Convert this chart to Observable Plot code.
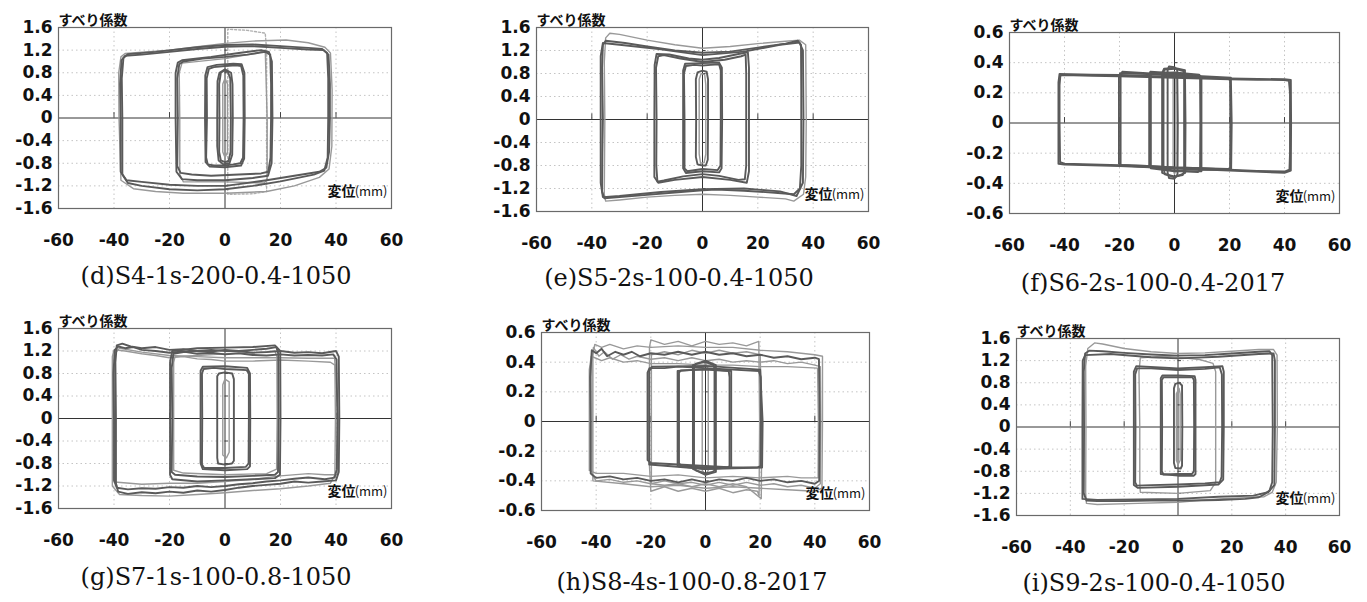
<!DOCTYPE html>
<html>
<head>
<meta charset="utf-8">
<script src="https://cdn.jsdelivr.net/npm/d3@7"></script>
<script src="https://cdn.jsdelivr.net/npm/@observablehq/plot@0.6"></script>
<style>
  html, body { margin: 0; padding: 0; background: #fff; }
  #root { position: relative; width: 1367px; height: 602px; overflow: hidden; background: #fff; }
  .ttl { position: absolute; font-family: "DejaVu Serif", "Liberation Serif", serif; font-size: 24px; line-height: 24px; color: #111; white-space: nowrap; transform: translateX(-50%); }
</style>
</head>
<body>
<div id="root"></div>
<script>
// ---------- tick labels, texts ----------
const xTicks = [-60, -40, -20, 0, 20, 40, 60];
const yTicksWide = [-1.6, -1.2, -0.8, -0.4, 0, 0.4, 0.8, 1.2, 1.6];
const yTicksNarrow = [-0.6, -0.4, -0.2, 0, 0.2, 0.4, 0.6];
const gridX = [-40, -20, 20, 40];
const titles = ["(d)S4-1s-200-0.4-1050", "(e)S5-2s-100-0.4-1050", "(f)S6-2s-100-0.4-2017",
                "(g)S7-1s-100-0.8-1050", "(h)S8-4s-100-0.8-2017", "(i)S9-2s-100-0.4-1050"];
const yLabel = "すべり係数";
const xLabelMain = "変位";
const xLabelUnit = "(mm)";

// ---------- panel (d) loops: [displacement mm, slip coefficient] ----------
const darkD = [
  [[-37.6,0],[-37.8,0.6],[-37.3,1.02],[-36,1.1],[-30,1.12],[-20,1.17],[-10,1.22],[0,1.26],[10,1.27],[20,1.24],[30,1.21],[35.5,1.2],[37.3,1.12],[37.8,0.6],[37.8,0],[37.5,-0.6],[36.5,-0.88],[34,-0.95],[25,-1.02],[15,-1.1],[5,-1.17],[0,-1.2],[-10,-1.2],[-20,-1.18],[-30,-1.13],[-35.5,-1.1],[-37.6,-0.95],[-37.6,0]],
  [[-37,0],[-37.2,0.7],[-36.6,1.06],[-35,1.13],[-25,1.17],[-10,1.25],[0,1.29],[10,1.3],[20,1.27],[30,1.24],[35,1.22],[36.8,1.15],[37.2,0.7],[37.2,0],[37,-0.7],[35.8,-0.93],[32,-1.0],[20,-1.12],[10,-1.2],[0,-1.26],[-10,-1.28],[-20,-1.26],[-30,-1.2],[-35,-1.15],[-37,-1.0],[-37,0]],
  [[-17,0],[-17.2,0.7],[-16.5,0.95],[-15,1.0],[-8,1.05],[0,1.08],[8,1.12],[14.5,1.17],[16.3,1.12],[16.6,0.6],[16.6,0],[16.4,-0.7],[15.6,-0.95],[13,-0.98],[5,-1.0],[-5,-1.02],[-12,-1.0],[-16,-0.97],[-17.2,-0.85],[-17,0]],
  [[-17.8,0],[-17.8,0.8],[-17,0.98],[-15.5,1.02],[-5,1.08],[5,1.15],[13,1.2],[15.8,1.17],[16.9,1.0],[17.1,0],[16.8,-0.8],[15.5,-1.02],[10,-1.06],[0,-1.1],[-10,-1.1],[-15.5,-1.08],[-17.5,-0.95],[-17.8,0]],
  [[-6.5,0],[-6.6,0.7],[-5.8,0.87],[-4,0.9],[0,0.92],[4,0.93],[5.8,0.92],[6.6,0.75],[6.7,0],[6.5,-0.7],[5.5,-0.8],[3,-0.82],[0,-0.84],[-4,-0.84],[-6.2,-0.82],[-6.8,-0.7],[-6.5,0]],
  [[-7.2,0],[-7.1,0.75],[-6.3,0.9],[-3,0.94],[3,0.96],[6,0.95],[7,0.8],[7.1,0],[6.9,-0.72],[5.8,-0.84],[0,-0.87],[-5.5,-0.86],[-7,-0.78],[-7.2,0]],
  [[-2,0],[-2.1,0.6],[-1.5,0.8],[-0.3,0.84],[1,0.82],[1.9,0.7],[2.1,0],[2,-0.6],[1.3,-0.76],[0,-0.78],[-1.5,-0.75],[-2.1,-0.6],[-2,0]],
  [[-2.8,0],[-2.7,0.65],[-2,0.8],[0,0.86],[2.2,0.8],[2.7,0.6],[2.8,0],[2.6,-0.65],[1.6,-0.8],[-0.5,-0.82],[-2.3,-0.75],[-2.8,-0.5],[-2.8,0]]
];
const lightD = [
  [[-38.2,0],[-38.3,0.8],[-37.5,1.08],[-36,1.14],[-20,1.2],[-10,1.26],[0,1.32],[10,1.36],[22,1.38],[30,1.33],[36,1.25],[38,1.15],[38.6,0.5],[38.5,-0.5],[37.5,-0.9],[34,-1.05],[25,-1.2],[15,-1.3],[0,-1.33],[-15,-1.33],[-25,-1.3],[-33,-1.25],[-37.5,-1.1],[-38.2,0]],
  [[-16.3,0],[-16.5,0.8],[-15.5,0.97],[0,1.05],[12,1.15],[14.5,1.2],[15.2,0],[15.2,-1.1],[14,-1.15],[0,-1.13],[-15,-1.13],[-16.3,-1.0],[-16.3,0]],
  [[-0.8,0],[-0.8,0.6],[0,0.7],[0.9,0.6],[0.9,-0.6],[0,-0.7],[-0.8,-0.6],[-0.8,0]]
];
const dotD = [
  [[1,-1.35],[1,1.57],[8,1.55],[14.5,1.5],[15,1.2],[15,-1.3],[10,-1.34],[1,-1.35]]
];

// ---------- panel (e) ----------
const darkE = [
  [[-36,0],[-36.3,0.9],[-36,1.3],[-35,1.37],[-28,1.33],[-20,1.27],[-10,1.2],[0,1.16],[10,1.18],[20,1.25],[30,1.32],[34.5,1.37],[35.6,1.3],[35.7,0.5],[35.7,-0.8],[35.2,-1.2],[33,-1.3],[25,-1.27],[15,-1.24],[5,-1.22],[0,-1.23],[-10,-1.27],[-20,-1.31],[-30,-1.35],[-35.5,-1.37],[-36.3,-1.25],[-36.2,-0.6],[-36,0]],
  [[-36.8,0],[-36.8,1.1],[-36,1.33],[-30,1.3],[-15,1.22],[0,1.12],[15,1.18],[28,1.3],[35,1.34],[36.3,1.2],[36.5,0],[36.3,-1.1],[34,-1.33],[28,-1.25],[15,-1.2],[0,-1.21],[-15,-1.26],[-30,-1.33],[-36,-1.35],[-36.8,-1.1],[-36.8,0]],
  [[-16.6,0],[-16.8,0.9],[-16,1.1],[-14,1.12],[-8,1.06],[0,1.0],[8,1.04],[14,1.1],[15.6,1.13],[15.8,0.8],[15.8,-0.8],[15.3,-1.04],[13,-1.05],[6,-0.98],[0,-0.95],[-7,-0.99],[-14,-1.06],[-16.3,-1.08],[-16.7,-0.8],[-16.6,0]],
  [[-17.4,0],[-17.3,0.95],[-16.6,1.14],[-12,1.13],[-5,1.06],[0,1.04],[6,1.07],[13,1.14],[16.4,1.17],[16.8,0.9],[16.8,-0.9],[16,-1.1],[10,-1.05],[0,-1.0],[-10,-1.05],[-16,-1.1],[-17.4,-1.0],[-17.4,0]],
  [[-6.5,0],[-6.7,0.8],[-6,0.93],[-3,0.95],[0,0.94],[3,0.95],[6,0.96],[6.6,0.85],[6.6,0],[6.5,-0.8],[5.5,-0.88],[0,-0.86],[-5.5,-0.9],[-6.5,-0.85],[-6.5,0]],
  [[-7,0],[-7,0.85],[-6.3,0.97],[0,0.98],[6,0.99],[7,0.9],[7.1,0],[6.9,-0.85],[6,-0.92],[0,-0.9],[-6,-0.93],[-7,-0.85],[-7,0]],
  [[-2.3,0],[-2.4,0.7],[-1.8,0.82],[0,0.85],[1.5,0.83],[2,0.7],[2,0],[1.9,-0.7],[1.2,-0.8],[0,-0.8],[-1.8,-0.78],[-2.4,-0.65],[-2.3,0]]
];
const lightE = [
  [[-35.3,0],[-35.5,1.0],[-35,1.42],[-33.5,1.5],[-30,1.48],[-20,1.38],[-10,1.3],[0,1.24],[10,1.27],[20,1.32],[30,1.36],[35,1.38],[37.3,1.3],[37.5,0],[37.3,-1.0],[36.5,-1.3],[33,-1.42],[30,-1.38],[20,-1.35],[10,-1.32],[0,-1.3],[-10,-1.32],[-20,-1.35],[-30,-1.4],[-35,-1.42],[-35.5,-1.3],[-35.3,0]],
  [[-1.2,0],[-1.2,0.7],[-0.5,0.8],[0.8,0.78],[1.2,0.6],[1.2,-0.6],[0.6,-0.75],[-0.7,-0.76],[-1.2,-0.6],[-1.2,0]]
];

// ---------- panel (f) ----------
const darkF = [
  [[-41.8,0],[-41.8,0.25],[-41.5,0.315],[-40,0.318],[-30,0.313],[-20,0.31],[-10,0.305],[0,0.3],[10,0.295],[20,0.29],[30,0.287],[40,0.285],[41.6,0.28],[42,0.2],[42,-0.2],[41.8,-0.31],[40,-0.322],[30,-0.318],[20,-0.31],[10,-0.3],[0,-0.295],[-10,-0.285],[-20,-0.28],[-30,-0.275],[-40,-0.27],[-41.6,-0.26],[-41.8,0]],
  [[-42.2,0],[-42.2,0.27],[-41.8,0.325],[-30,0.32],[-20,0.318],[0,0.305],[20,0.295],[40,0.29],[42.3,0.285],[42.4,0],[42.3,-0.315],[40,-0.33],[20,-0.315],[0,-0.3],[-20,-0.285],[-40,-0.275],[-42.2,-0.27],[-42.2,0]],
  [[-20.2,0],[-20.2,0.3],[-19.8,0.33],[-10,0.325],[0,0.315],[10,0.305],[19.8,0.295],[20.2,0.28],[20.3,0],[20.2,-0.3],[19.5,-0.305],[10,-0.3],[0,-0.295],[-10,-0.285],[-19.5,-0.278],[-20.2,-0.27],[-20.2,0]],
  [[-19.6,0],[-19.6,0.31],[-19,0.34],[-10,0.33],[0,0.32],[10,0.31],[20.5,0.3],[20.8,0],[20.6,-0.31],[10,-0.31],[0,-0.3],[-10,-0.292],[-19.6,-0.28],[-19.6,0]],
  [[-9.2,0],[-9.2,0.32],[-8.8,0.34],[0,0.33],[8.8,0.315],[9.3,0.3],[9.4,0],[9.3,-0.31],[8.5,-0.325],[0,-0.315],[-8.5,-0.295],[-9.2,-0.285],[-9.2,0]],
  [[-8.6,0],[-8.6,0.33],[0,0.335],[9,0.32],[9.8,0.3],[9.8,-0.32],[0,-0.32],[-8.6,-0.3],[-8.6,0]],
  [[-4,0],[-4,0.34],[-3.5,0.355],[0,0.36],[3.2,0.345],[3.5,0.3],[3.5,-0.32],[3,-0.345],[0,-0.355],[-3.5,-0.34],[-4,-0.3],[-4,0]],
  [[-4.5,0],[-4.5,0.33],[-3.8,0.36],[0,0.365],[3.8,0.35],[4,0],[3.9,-0.33],[0,-0.36],[-4.5,-0.33],[-4.5,0]],
  [[-2.5,0],[-2.5,0.35],[-2,0.375],[0,0.37],[1,0.35],[1.2,0],[1.1,-0.34],[0,-0.37],[-2,-0.365],[-2.5,-0.33],[-2.5,0]]
];
const lightF = [
  [[-0.5,0],[-0.5,0.3],[0,0.34],[0.5,0.3],[0.5,-0.3],[0,-0.34],[-0.5,-0.3],[-0.5,0]]
];

// ---------- panel (g) ----------
const darkG = [
  [[-40,0],[-40.2,0.8],[-39.7,1.22],[-38.5,1.28],[-36,1.25],[-33,1.27],[-30,1.22],[-25,1.2],[-20,1.17],[-15,1.19],[-10,1.15],[-5,1.17],[0,1.14],[5,1.16],[10,1.13],[15,1.12],[20,1.14],[25,1.12],[30,1.13],[35,1.12],[39,1.14],[40.2,1.05],[40.5,0],[40.3,-0.9],[39.5,-1.05],[36,-1.08],[30,-1.05],[25,-1.07],[20,-1.1],[15,-1.12],[10,-1.15],[5,-1.17],[0,-1.2],[-5,-1.22],[-10,-1.2],[-15,-1.23],[-20,-1.22],[-25,-1.25],[-30,-1.24],[-35,-1.26],[-39,-1.23],[-40,-1.1],[-40,0]],
  [[-39.3,0],[-39.5,1.0],[-39,1.3],[-37,1.33],[-34,1.28],[-30,1.25],[-25,1.27],[-20,1.22],[-15,1.23],[-10,1.2],[-5,1.22],[0,1.2],[5,1.2],[10,1.17],[15,1.18],[20,1.2],[25,1.17],[30,1.18],[35,1.16],[40,1.2],[41,1.1],[41.2,0],[41,-0.95],[40,-1.1],[35,-1.12],[30,-1.14],[25,-1.12],[20,-1.16],[15,-1.18],[10,-1.2],[5,-1.23],[0,-1.27],[-5,-1.3],[-10,-1.28],[-15,-1.32],[-20,-1.3],[-25,-1.33],[-30,-1.31],[-35,-1.34],[-38.5,-1.3],[-39.3,-1.15],[-39.3,0]],
  [[-19,0],[-19.2,0.9],[-18.6,1.15],[-15,1.18],[-10,1.2],[-5,1.19],[0,1.22],[5,1.2],[10,1.22],[15,1.24],[18.5,1.27],[19.2,1.15],[19.3,0],[19.1,-0.95],[18,-1.0],[10,-1.02],[0,-1.04],[-10,-1.03],[-18,-1.0],[-19.2,-0.95],[-19,0]],
  [[-19.8,0],[-19.8,1.0],[-19,1.2],[-10,1.25],[0,1.26],[10,1.27],[18,1.3],[19.9,1.2],[20,0],[19.8,-1.0],[18,-1.06],[10,-1.08],[0,-1.1],[-10,-1.12],[-19,-1.08],[-19.8,-1.0],[-19.8,0]],
  [[-8.2,0],[-8.3,0.8],[-7.7,0.88],[-4,0.9],[0,0.88],[4,0.87],[7.8,0.86],[8.6,0.8],[8.6,0],[8.5,-0.8],[7.5,-0.86],[0,-0.88],[-7.5,-0.88],[-8.3,-0.82],[-8.2,0]],
  [[-8.8,0],[-8.8,0.85],[-8,0.92],[0,0.93],[8,0.9],[9,0.8],[9.1,0],[9,-0.85],[8,-0.9],[0,-0.92],[-8,-0.9],[-8.8,-0.8],[-8.8,0]],
  [[-2.8,0],[-2.8,0.75],[-2.2,0.8],[0,0.82],[2.6,0.8],[3.2,0.7],[3.2,-0.75],[2.5,-0.8],[0,-0.82],[-2.5,-0.8],[-2.8,-0.7],[-2.8,0]]
];
const lightG = [
  [[-40.6,0],[-40.6,1.1],[-40,1.22],[-36,1.2],[-30,1.15],[-25,1.12],[-20,1.08],[-15,1.1],[-10,1.06],[-5,1.05],[0,1.02],[10,1.02],[20,1.04],[30,1.02],[38,1.0],[39.6,0.95],[39.8,0],[39.6,-1.0],[38,-1.15],[30,-1.2],[20,-1.25],[10,-1.28],[0,-1.32],[-10,-1.35],[-20,-1.38],[-30,-1.37],[-38,-1.35],[-40.6,-1.2],[-40.6,0]],
  [[-39.8,0],[-39.9,1.15],[-38,1.25],[-30,1.18],[-20,1.12],[-10,1.1],[0,1.08],[10,1.08],[20,1.08],[30,1.07],[39.5,1.07],[40.8,0],[40.5,-1.0],[36,-1.0],[30,-0.98],[20,-1.02],[10,-1.08],[0,-1.12],[-10,-1.15],[-20,-1.15],[-30,-1.17],[-39.8,-1.13],[-39.8,0]],
  [[-18.5,0],[-18.5,1.0],[-18,1.1],[-10,1.12],[0,1.15],[10,1.17],[18,1.2],[18.7,1.1],[18.8,0],[18.6,-0.9],[15,-0.98],[0,-1.0],[-15,-0.97],[-18.5,-0.92],[-18.5,0]],
  [[-0.8,0],[-0.8,0.6],[0,0.7],[1.5,0.65],[1.5,-0.6],[0.5,-0.7],[-0.8,-0.65],[-0.8,0]]
];

// ---------- panel (h) ----------
const darkH = [
  [[-42,0],[-42.2,0.3],[-41.6,0.48],[-40,0.46],[-38,0.49],[-36,0.44],[-33,0.47],[-30,0.45],[-27,0.47],[-24,0.44],[-20,0.46],[-15,0.45],[-10,0.47],[-5,0.45],[0,0.47],[5,0.45],[10,0.46],[15,0.44],[20,0.45],[25,0.43],[30,0.44],[35,0.42],[40,0.43],[41.5,0.42],[41.8,0],[41.6,-0.4],[40,-0.42],[35,-0.4],[30,-0.41],[25,-0.39],[20,-0.4],[15,-0.38],[10,-0.4],[5,-0.39],[0,-0.41],[-5,-0.39],[-10,-0.41],[-15,-0.39],[-20,-0.4],[-25,-0.38],[-30,-0.39],[-35,-0.37],[-40,-0.38],[-42,-0.35],[-42,0]],
  [[-21.2,0],[-21.2,0.33],[-20.5,0.36],[-15,0.36],[-10,0.37],[0,0.36],[10,0.35],[19.5,0.34],[20.2,0.3],[20.3,0],[20.2,-0.3],[19,-0.31],[10,-0.31],[0,-0.3],[-10,-0.29],[-20,-0.28],[-21.2,-0.26],[-21.2,0]],
  [[-20.6,0],[-20.6,0.34],[-19.5,0.37],[0,0.375],[20,0.35],[20.9,0],[20.7,-0.31],[0,-0.32],[-20.6,-0.29],[-20.6,0]],
  [[-9.7,0],[-9.7,0.33],[-9,0.345],[0,0.35],[8.5,0.34],[8.8,0.3],[8.8,-0.3],[8,-0.31],[0,-0.31],[-9,-0.3],[-9.7,-0.28],[-9.7,0]],
  [[-10.2,0],[-10.2,0.34],[0,0.355],[9.4,0.34],[9.4,-0.31],[0,-0.32],[-10.2,-0.3],[-10.2,0]],
  [[-4.2,0],[-4.2,0.37],[-3.5,0.39],[0,0.4],[3,0.38],[3.3,0.35],[3.3,-0.33],[2.5,-0.34],[0,-0.35],[-3.5,-0.33],[-4.2,-0.3],[-4.2,0]],
  [[-4.6,0],[-4.6,0.38],[0,0.41],[3.8,0.38],[3.8,-0.34],[0,-0.36],[-4.6,-0.32],[-4.6,0]]
];
const lightH = [
  [[-41.5,0],[-41.6,0.4],[-41,0.5],[-39,0.44],[-37,0.47],[-34,0.42],[-31,0.45],[-28,0.42],[-25,0.44],[-20,0.42],[-15,0.43],[-10,0.41],[-5,0.43],[0,0.41],[5,0.42],[10,0.4],[15,0.41],[20,0.4],[25,0.41],[30,0.39],[35,0.4],[40,0.38],[42,0.37],[42.2,0],[42,-0.42],[40,-0.45],[35,-0.43],[30,-0.44],[25,-0.42],[20,-0.43],[15,-0.41],[10,-0.43],[5,-0.41],[0,-0.43],[-5,-0.41],[-10,-0.42],[-15,-0.4],[-20,-0.42],[-25,-0.4],[-30,-0.41],[-35,-0.39],[-40,-0.4],[-41.5,-0.36],[-41.5,0]],
  [[-42.5,0],[-42.5,0.35],[-41.8,0.44],[-38,0.41],[-35,0.43],[-30,0.4],[-25,0.41],[-20,0.39],[-10,0.39],[0,0.38],[10,0.38],[20,0.37],[30,0.37],[41,0.36],[41.3,0],[41.2,-0.38],[35,-0.38],[30,-0.37],[20,-0.38],[10,-0.37],[0,-0.38],[-10,-0.36],[-20,-0.37],[-30,-0.35],[-40,-0.35],[-42.5,-0.33],[-42.5,0]],
  [[-41.2,0],[-41.2,0.45],[-40.5,0.52],[-38,0.5],[-35,0.52],[-30,0.49],[-25,0.51],[-20,0.5],[-10,0.51],[0,0.5],[10,0.5],[20,0.48],[30,0.47],[40,0.45],[42.8,0.44],[42.8,0],[42.6,-0.45],[40,-0.47],[30,-0.46],[20,-0.45],[10,-0.44],[0,-0.45],[-10,-0.43],[-20,-0.44],[-30,-0.42],[-41.2,-0.4],[-41.2,0]],
  [[-20.5,0],[-20.5,0.5],[-20,0.55],[-15,0.52],[-10,0.54],[-5,0.51],[0,0.54],[5,0.52],[10,0.53],[15,0.51],[19.5,0.54],[19.8,0],[19.6,-0.5],[19,-0.47],[15,-0.46],[10,-0.48],[5,-0.45],[0,-0.47],[-5,-0.45],[-10,-0.47],[-15,-0.44],[-20,-0.47],[-20.5,-0.3],[-20.5,0]],
  [[-19.8,0],[-19.8,0.45],[-15,0.47],[-10,0.45],[-5,0.48],[0,0.46],[5,0.48],[10,0.46],[15,0.47],[20,0.45],[20.6,0],[20.4,-0.52],[15,-0.44],[10,-0.42],[5,-0.44],[0,-0.42],[-5,-0.44],[-10,-0.42],[-15,-0.43],[-19.8,-0.42],[-19.8,0]],
  [[-1.2,0],[-1.2,0.35],[0,0.4],[1,0.35],[1,-0.33],[0,-0.36],[-1.2,-0.33],[-1.2,0]]
];

// ---------- panel (i) ----------
const darkI = [
  [[-34.9,0],[-35,1.0],[-34.5,1.33],[-33,1.38],[-28,1.37],[-20,1.34],[-10,1.31],[0,1.29],[10,1.3],[20,1.33],[30,1.36],[34,1.37],[35,1.3],[35.2,0],[35,-1.0],[34,-1.15],[32,-1.22],[30,-1.27],[25,-1.3],[15,-1.32],[5,-1.33],[0,-1.33],[-10,-1.33],[-20,-1.34],[-30,-1.34],[-34,-1.33],[-35,-1.2],[-34.9,0]],
  [[-35.5,0],[-35.4,1.2],[-34.5,1.3],[-25,1.32],[-10,1.26],[0,1.24],[15,1.27],[30,1.32],[35.5,1.33],[36,1.2],[36,0],[35.8,-1.05],[33.5,-1.18],[28,-1.24],[15,-1.26],[0,-1.3],[-15,-1.31],[-30,-1.32],[-35.5,-1.3],[-35.5,0]],
  [[-15.8,0],[-15.9,0.95],[-15.2,1.06],[-10,1.06],[0,1.03],[10,1.05],[15.5,1.08],[16.3,0.95],[16.4,0],[16.2,-0.9],[15.5,-1.0],[10,-1.02],[0,-1.04],[-10,-1.05],[-15.3,-1.06],[-15.9,-1.0],[-15.8,0]],
  [[-16.4,0],[-16.4,1.0],[-15.5,1.1],[-5,1.07],[0,1.06],[10,1.08],[16.5,1.1],[17,1.0],[17,0],[16.8,-0.95],[15,-1.04],[0,-1.08],[-15,-1.1],[-16.4,-1.05],[-16.4,0]],
  [[-5.9,0],[-6,0.85],[-5.4,0.9],[0,0.9],[5.4,0.9],[5.9,0.85],[6,0],[5.9,-0.8],[5.2,-0.85],[0,-0.85],[-5.4,-0.86],[-6,-0.8],[-5.9,0]],
  [[-6.4,0],[-6.4,0.88],[-5.8,0.93],[0,0.93],[6.2,0.92],[6.5,0.85],[6.5,-0.85],[5.8,-0.88],[0,-0.88],[-6.4,-0.85],[-6.4,0]],
  [[-1.5,0],[-1.5,0.7],[-1,0.78],[0.5,0.8],[1.5,0.75],[1.6,0],[1.5,-0.7],[1,-0.75],[-1,-0.74],[-1.5,-0.65],[-1.5,0]]
];
const lightI = [
  [[-34.2,0],[-34.3,1.1],[-33.5,1.42],[-31,1.52],[-28,1.5],[-20,1.42],[-10,1.36],[0,1.33],[10,1.34],[20,1.37],[30,1.4],[35.5,1.4],[36.8,1.3],[36.9,0],[36.5,-1.0],[35,-1.18],[32,-1.26],[25,-1.28],[15,-1.3],[0,-1.36],[-15,-1.38],[-30,-1.4],[-34,-1.38],[-34.3,-1.2],[-34.2,0]],
  [[-14.2,0],[-14.5,1.0],[-14,1.25],[-5,1.28],[2,1.25],[8,1.22],[13,1.15],[14,1.0],[14,-1.0],[12,-1.15],[0,-1.2],[-14,-1.18],[-14.2,-1.0],[-14.2,0]],
  [[-0.6,0],[-0.6,0.6],[0.4,0.7],[0.8,0.6],[0.8,-0.6],[0,-0.68],[-0.6,-0.6],[-0.6,0]]
];

// ---------- layout (page pixels of each plot frame) ----------
const panels = [
  {dark: darkD, light: lightD, dot: dotD, yTicks: yTicksWide,   L: 58,   R: 391,  T: 27,  B: 208, tx: 216,  ty: 264},
  {dark: darkE, light: lightE, dot: [],   yTicks: yTicksWide,   L: 536,  R: 868,  T: 27,  B: 211, tx: 679,  ty: 266},
  {dark: darkF, light: lightF, dot: [],   yTicks: yTicksNarrow, L: 1009, R: 1339, T: 32,  B: 213, tx: 1153, ty: 271},
  {dark: darkG, light: lightG, dot: [],   yTicks: yTicksWide,   L: 58,   R: 391,  T: 328, B: 508, tx: 216,  ty: 565},
  {dark: darkH, light: lightH, dot: [],   yTicks: yTicksNarrow, L: 541,  R: 869,  T: 332, B: 510, tx: 692,  ty: 570},
  {dark: darkI, light: lightI, dot: [],   yTicks: yTicksWide,   L: 1016, R: 1339, T: 338, B: 515, tx: 1154, ty: 571}
];

const flat = loops => loops.flatMap((pts, i) => pts.map(([x, y]) => ({x, y, id: i})));
const root = document.getElementById("root");
const mL = 60, mR = 22, mT = 30, mB = 50;

panels.forEach((p, k) => {
  const yMax = d3.max(p.yTicks);
  const gridY = p.yTicks.filter(t => t !== 0 && Math.abs(t) < yMax);
  const svg = Plot.plot({
    width: (p.R - p.L) + mL + mR,
    height: (p.B - p.T) + mT + mB,
    marginLeft: mL, marginRight: mR, marginTop: mT, marginBottom: mB,
    x: {domain: [-60, 60]},
    y: {domain: [-yMax, yMax]},
    style: {fontFamily: "DejaVu Sans", background: "transparent", overflow: "visible", color: "#111"},
    marks: [
      Plot.ruleX(gridX, {stroke: "#c4c4c4", strokeWidth: 1, strokeDasharray: "1.5,3"}),
      Plot.ruleY(gridY, {stroke: "#c4c4c4", strokeWidth: 1, strokeDasharray: "1.5,3"}),
      Plot.ruleX([0], {stroke: "#333", strokeWidth: 1}),
      Plot.ruleY([0], {stroke: "#333", strokeWidth: 1}),
      Plot.ruleX(gridX, {y1: 0, y2: yMax * 0.06, stroke: "#444", strokeWidth: 1}),
      Plot.ruleY(gridY, {x1: 0, x2: 1.3, stroke: "#444", strokeWidth: 1}),
      Plot.line(flat(p.dot), {x: "x", y: "y", z: "id", stroke: "#b0b0b0", strokeWidth: 1.4, strokeDasharray: "2,2"}),
      Plot.line(flat(p.light), {x: "x", y: "y", z: "id", stroke: "#999", strokeWidth: 1.4}),
      Plot.line(flat(p.dark), {x: "x", y: "y", z: "id", stroke: "#5a5a5a", strokeWidth: 1.9}),
      Plot.frame({stroke: "#6a6a6a", strokeWidth: 1.2}),
      Plot.axisY(p.yTicks, {label: null, tickSize: 0, tickPadding: 6, fontSize: 17, fontWeight: "bold", tickFormat: d => String(d)}),
      Plot.axisX(xTicks, {label: null, tickSize: 0, tickPadding: 25, fontSize: 17, fontWeight: "bold", tickFormat: d => String(d)}),
      Plot.text([yLabel], {text: d => d, frameAnchor: "top-left", dy: -12, textAnchor: "start",
        fontSize: 14, fontWeight: "bold", fontFamily: "Noto Sans CJK JP", fill: "#111"}),
      Plot.text([xLabelUnit], {text: d => d, frameAnchor: "bottom-right", dx: -4, dy: -13, textAnchor: "end",
        fontSize: 13, fontFamily: "Noto Sans CJK JP", fill: "#111"}),
      Plot.text([xLabelMain], {text: d => d, frameAnchor: "bottom-right", dx: -36, dy: -13, textAnchor: "end",
        fontSize: 14, fontWeight: "bold", fontFamily: "Noto Sans CJK JP", fill: "#111"})
    ]
  });
  svg.style.position = "absolute";
  svg.style.left = (p.L - mL) + "px";
  svg.style.top = (p.T - mT) + "px";
  root.appendChild(svg);

  const t = document.createElement("div");
  t.className = "ttl";
  t.textContent = titles[k];
  t.style.left = p.tx + "px";
  t.style.top = p.ty + "px";
  root.appendChild(t);
});
</script>
</body>
</html>
